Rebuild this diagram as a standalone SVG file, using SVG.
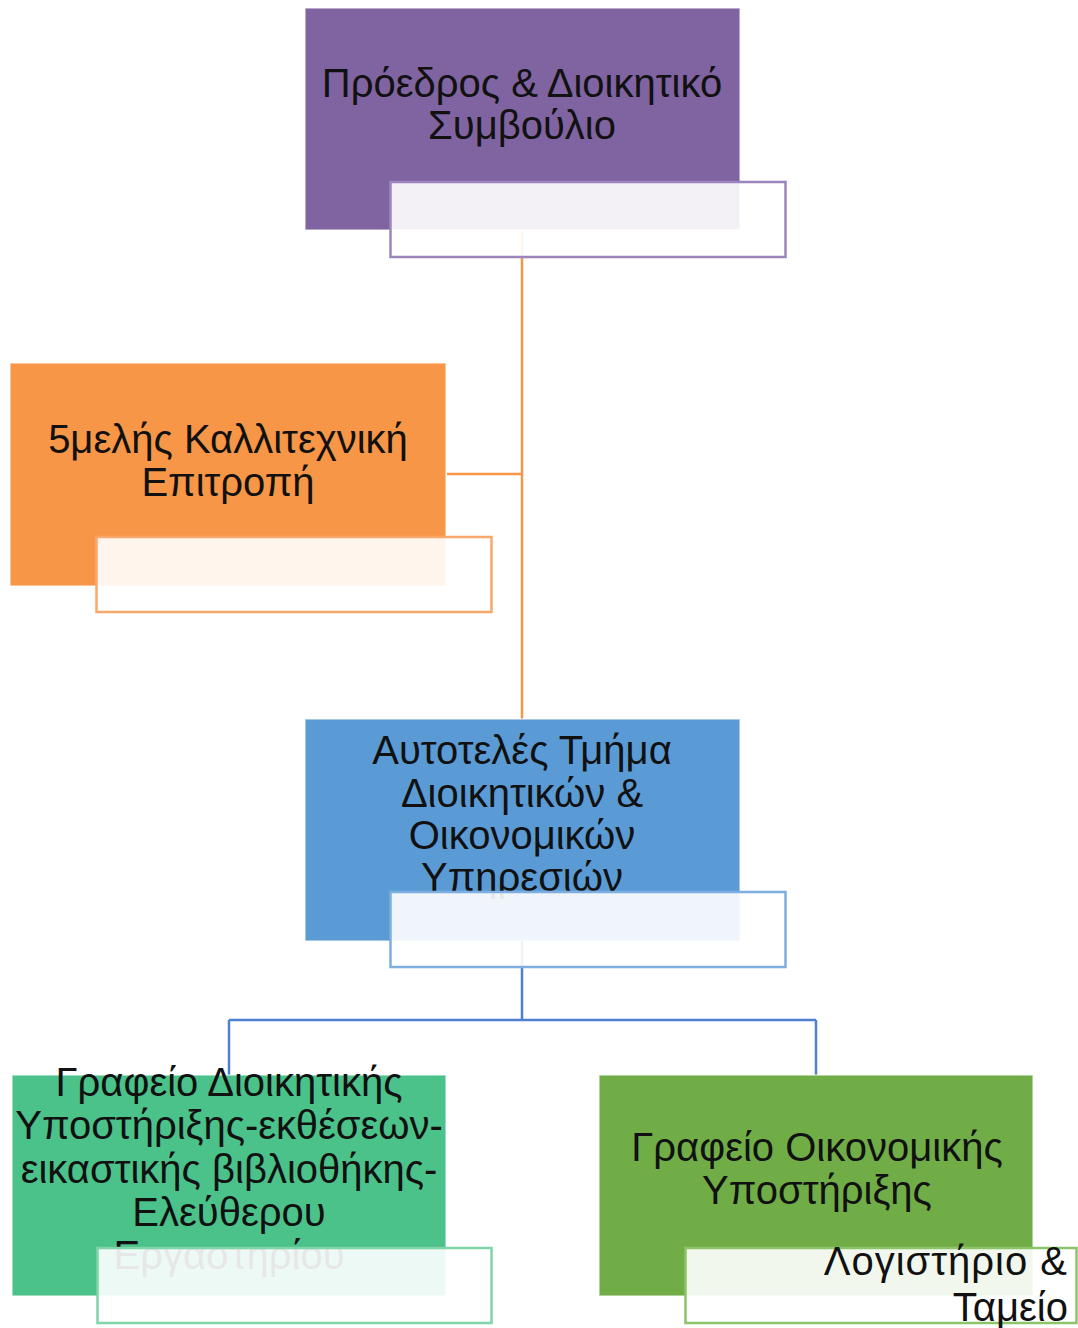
<svg xmlns="http://www.w3.org/2000/svg" width="1078" height="1328" viewBox="0 0 1078 1328">
<style>
  .t{font-family:"Liberation Sans",Arial,sans-serif;font-size:40px;fill:#111;text-anchor:middle}
  .tr{font-family:"Liberation Sans",Arial,sans-serif;font-size:40px;fill:#111;text-anchor:end}
  .main{stroke:#ffffff;stroke-opacity:0.6;stroke-width:1.5}
  .sub{fill:#ffffff;fill-opacity:0.9;stroke-width:2.5}
  .cn{fill:none;stroke-width:2.5}
</style>
<rect width="1078" height="1328" fill="#ffffff"/>

<g id="connectors">
  <path class="cn" stroke="#f79646" d="M522 232 V719 M447 474 H522"/>
  <path class="cn" stroke="#4f7fd0" d="M522 941 V1020 M229 1020 H816 M229 1020 V1075 M816 1020 V1075"/>
</g>

<g id="node-president">
  <rect class="main" x="305" y="8" width="435" height="222" fill="#8064a2"/>
  <text class="t" x="522" y="97">Πρόεδρος &amp; Διοικητικό</text>
  <text class="t" x="522" y="139">Συμβούλιο</text>
  <rect class="sub" x="390.5" y="182" width="395" height="75" stroke="#9c85bd"/>
</g>

<g id="node-committee">
  <rect class="main" x="10" y="363" width="436" height="223" fill="#f79646" stroke="#dddddd"/>
  <text class="t" x="228" y="453">5μελής Καλλιτεχνική</text>
  <text class="t" x="228" y="496">Επιτροπή</text>
  <rect class="sub" x="96.5" y="537" width="395" height="75" stroke="#f9a86c"/>
</g>

<g id="node-department">
  <rect class="main" x="305" y="719" width="435" height="222" fill="#5b9bd5"/>
  <text class="t" x="522" y="764">Αυτοτελές Τμήμα</text>
  <text class="t" x="522" y="807">Διοικητικών &amp;</text>
  <text class="t" x="522" y="849">Οικονομικών</text>
  <text class="t" x="522" y="891">Υπηρεσιών</text>
  <rect class="sub" x="390.5" y="892" width="395" height="75" stroke="#7eaee0"/>
</g>

<g id="node-admin-office">
  <rect class="main" x="12" y="1075" width="434" height="221" fill="#4cc28b"/>
  <text class="t" x="229" y="1096">Γραφείο Διοικητικής</text>
  <text class="t" x="229" y="1139">Υποστήριξης-εκθέσεων-</text>
  <text class="t" x="229" y="1183">εικαστικής βιβλιοθήκης-</text>
  <text class="t" x="229" y="1226">Ελεύθερου</text>
  <text class="t" x="229" y="1269">Εργαστηρίου</text>
  <rect class="sub" x="97.5" y="1248" width="394" height="75" stroke="#7fd4a8"/>
</g>

<g id="node-finance-office">
  <rect class="main" x="599" y="1075" width="434" height="221" fill="#70ad47"/>
  <text class="t" x="817" y="1161">Γραφείο Οικονομικής</text>
  <text class="t" x="817" y="1204">Υποστήριξης</text>
  <rect class="sub" x="685.5" y="1248" width="391" height="75" stroke="#8dc46a"/>
  <text class="tr" x="1068" y="1275" letter-spacing="1">Λογιστήριο &amp;</text>
  <text class="tr" x="1068" y="1321">Ταμείο</text>
</g>
</svg>
